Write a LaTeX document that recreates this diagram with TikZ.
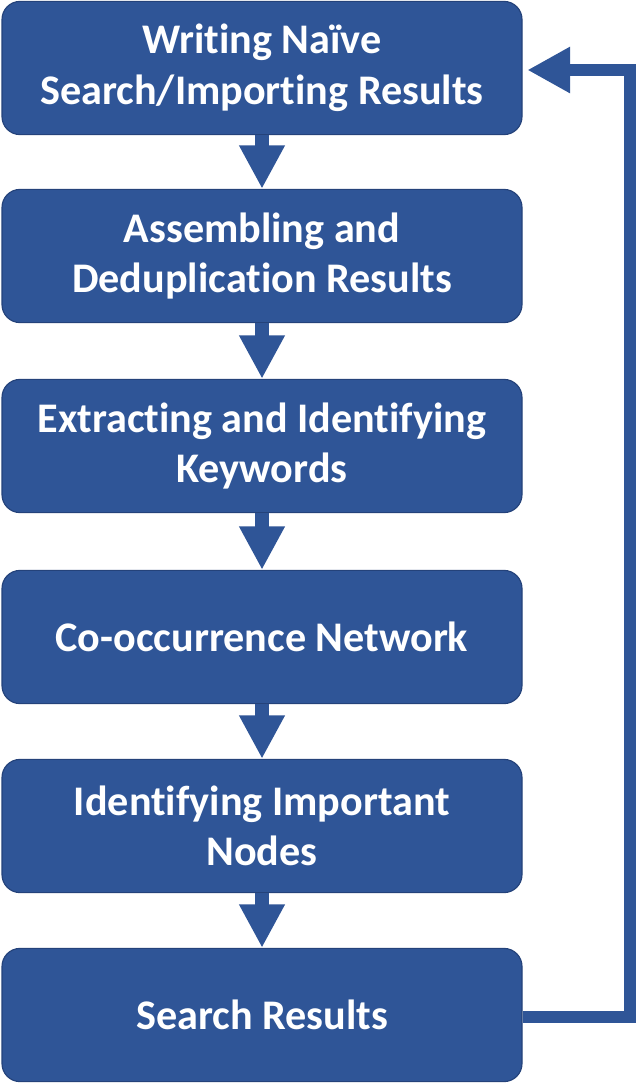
\documentclass[tikz,border=0pt]{standalone}
\usepackage{fontspec}
\setmainfont{Carlito}[Ligatures=NoCommon]
\usetikzlibrary{arrows.meta}
\definecolor{boxblue}{RGB}{47,85,151}
\definecolor{edgeblue}{RGB}{36,66,122}
\tikzset{
  stepbox/.style={draw=edgeblue, line width=0.8pt, fill=boxblue, rounded corners=0.45cm,
    minimum width=13cm, minimum height=3.33cm, align=center, text=white,
    font=\fontsize{30}{36}\selectfont\bfseries},
  flowarrow/.style={color=boxblue, line width=10pt,
    -{Triangle[width=30.5pt,length=31pt]}},
  backarrow/.style={color=boxblue, line width=9.2pt,
    -{Triangle[width=31pt,length=30.5pt]}, shorten >=0.12cm}
}
\begin{document}
\begin{tikzpicture}
\useasboundingbox (0,0) rectangle (15.95,-27.125);
\node[stepbox] (search)  at (6.55,-1.7)    {Writing Naïve\\Search/Importing Results};
\node[stepbox] (dedup)   at (6.55,-6.4)    {Assembling and\\Deduplication Results};
\node[stepbox] (keyw)    at (6.55,-11.15)  {Extracting and Identifying\\Keywords};
\node[stepbox] (cooc)    at (6.55,-15.925) {Co-occurrence Network};
\node[stepbox] (impnode) at (6.55,-20.65)  {Identifying Important\\Nodes};
\node[stepbox] (result)  at (6.55,-25.375) {Search Results};

\coordinate (back-low) at (15.75,-25.425);
\coordinate (back-up)  at (15.75,-1.75);

\draw[flowarrow] (search) -- (dedup);
\draw[flowarrow] (dedup) -- (keyw);
\draw[flowarrow] (keyw) -- (cooc);
\draw[flowarrow] (cooc) -- (impnode);
\draw[flowarrow] (impnode) -- (result);
\draw[backarrow] (result.east |- back-low) -- (back-low) -- (back-up) -- (search.east |- back-up);
\end{tikzpicture}
\end{document}
